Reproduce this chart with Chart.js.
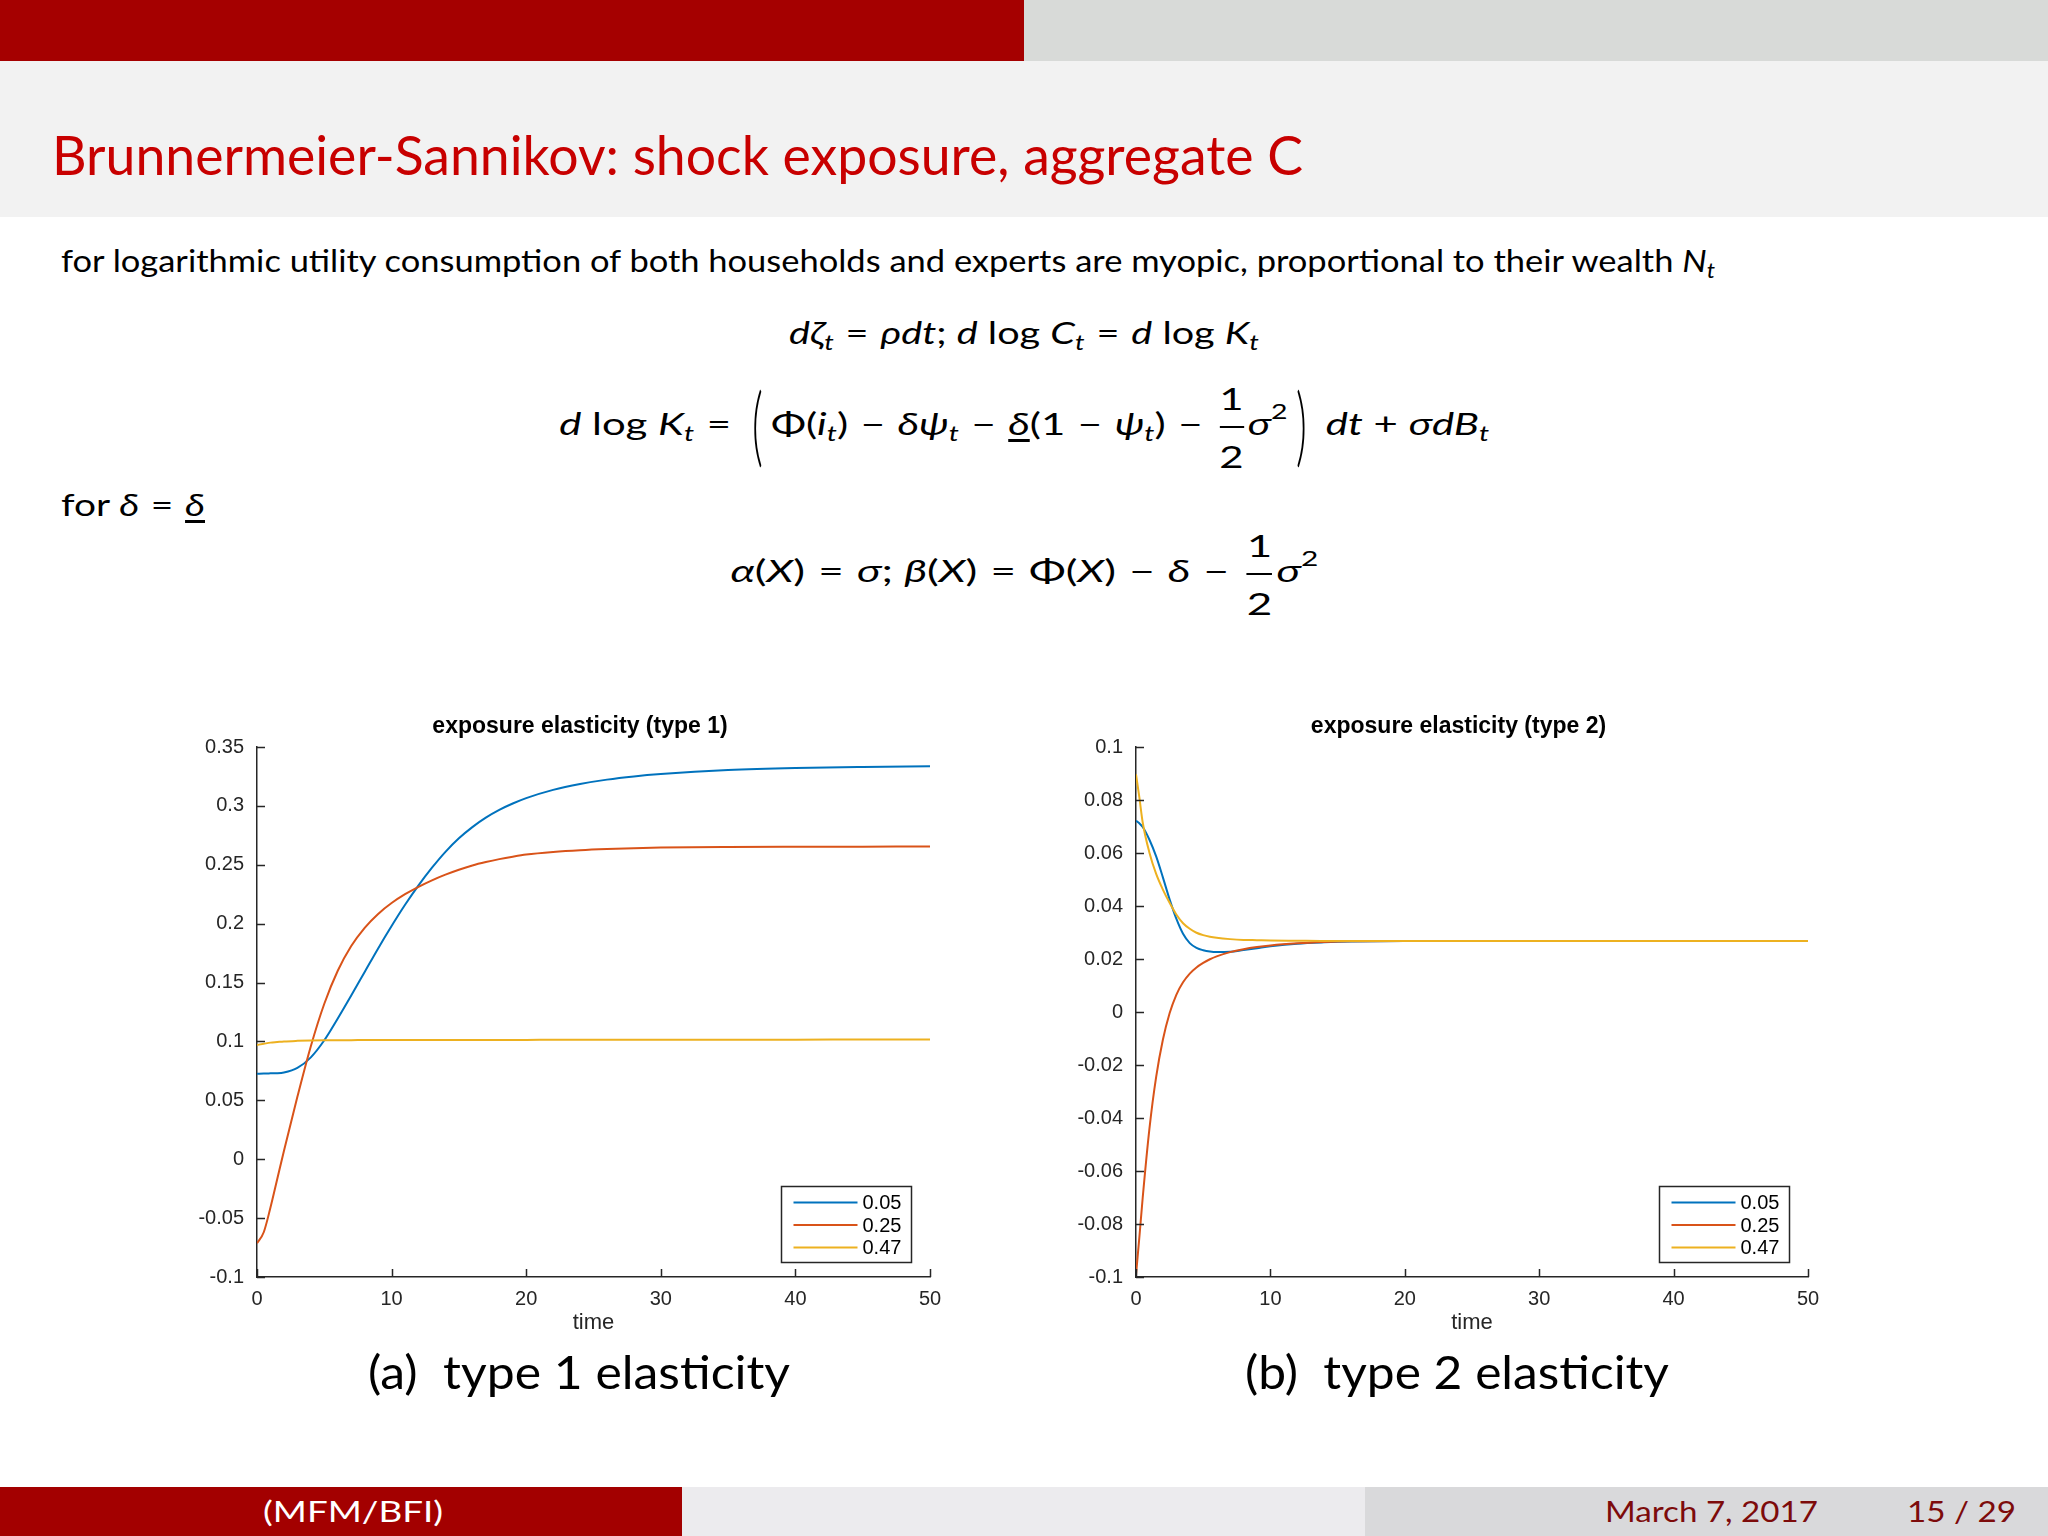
<!DOCTYPE html>
<html lang="en">
<head>
  <meta charset="UTF-8">
  <title>Brunnermeier-Sannikov: shock exposure, aggregate C</title>
  <script src="https://cdn.jsdelivr.net/npm/chart.js"></script>
  <style>
    body { margin: 0; width: 2048px; height: 1536px; position: relative; overflow: hidden; background: #fff; font-family: Lato, sans-serif; color: #000; }
    .abs { position: absolute; white-space: nowrap; line-height: 1; }
    .fit { display: inline-block; transform-origin: left center; }
    .eq { position: absolute; left: 0; width: 2048px; text-align: center; font-size: 31px; line-height: 1; white-space: nowrap; }
    .eq > span { display: inline-block; transform-origin: center center; }
    sub { font-size: 0.68em; font-style: italic; vertical-align: -0.28em; line-height: 0; }
    sup { font-size: 0.68em; vertical-align: 0.75em; line-height: 0; }
    .op { margin: 0 0.3em; }
    .frac { display: inline-flex; flex-direction: column; align-items: center; vertical-align: middle; line-height: 1.55; margin: 0 0.1em; }
    .frac .bar { width: 100%; height: 1.5px; background: #000; margin: 4px 0; }
    .big { display: inline-block; transform: scaleY(2.8); font-weight: 300; margin: 0 0.2em; }
    .ul { text-decoration: underline; text-underline-offset: 4px; }
  </style>
</head>
<body>
  <!-- header bars -->
  <div style="position:absolute; left:0; top:0; width:1024px; height:61px; background:#a50000;"></div>
  <div style="position:absolute; left:1024px; top:0; width:1024px; height:61px; background:#d8dad8;"></div>
  <div style="position:absolute; left:0; top:61px; width:2048px; height:156px; background:#f2f2f2;"></div>
  <div class="abs" style="left:52px; top:128px; font-size:54px; color:#c80000;"><span class="fit" data-w="1251">Brunnermeier-Sannikov: shock exposure, aggregate C</span></div>

  <!-- text and equations -->
  <div class="abs" style="left:61px; top:245px; font-size:31px;"><span class="fit" data-w="1654">for logarithmic utility consumption of both households and experts are myopic, proportional to their wealth <i>N</i><sub>t</sub></span></div>

  <div class="eq" style="top:317px;"><span data-w="470"><i>dζ</i><sub>t</sub><span class="op">=</span><i>ρdt</i>; <i>d</i> log <i>C</i><sub>t</sub><span class="op">=</span><i>d</i> log <i>K</i><sub>t</sub></span></div>

  <div class="eq" style="top:374px;"><span data-w="930"><i>d</i> log <i>K</i><sub>t</sub><span class="op">=</span><span class="big">(</span>Φ(<i>i</i><sub>t</sub>)<span class="op">−</span><i>δψ</i><sub>t</sub><span class="op">−</span><span class="ul"><i>δ</i></span>(1<span class="op">−</span><i>ψ</i><sub>t</sub>)<span class="op">−</span><span class="frac"><span>1</span><span class="bar"></span><span>2</span></span><i>σ</i><sup>2</sup><span class="big">)</span> <i>dt</i> + <i>σdB</i><sub>t</sub></span></div>

  <div class="abs" style="left:61px; top:489px; font-size:31px;"><span class="fit" data-w="144">for <i>δ</i><span class="op">=</span><span class="ul"><i>δ</i></span></span></div>

  <div class="eq" style="top:521px;"><span data-w="588"><i>α</i>(<i>X</i>)<span class="op">=</span><i>σ</i>; <i>β</i>(<i>X</i>)<span class="op">=</span>Φ(<i>X</i>)<span class="op">−</span><i>δ</i><span class="op">−</span><span class="frac"><span>1</span><span class="bar"></span><span>2</span></span><i>σ</i><sup>2</sup></span></div>

  <!-- charts -->
  <div style="position:absolute; left:150px; top:700px; width:860px; height:645px;"><canvas id="chart1"></canvas></div>
  <div style="position:absolute; left:1029px; top:700px; width:858px; height:645px;"><canvas id="chart2"></canvas></div>

  <div class="abs" style="left:368px; top:1349px; font-size:46px;"><span class="fit" data-w="422">(a)&nbsp; type 1 elasticity</span></div>
  <div class="abs" style="left:1245px; top:1349px; font-size:46px;"><span class="fit" data-w="424">(b)&nbsp; type 2 elasticity</span></div>

  <!-- footer -->
  <div style="position:absolute; left:0; top:1487px; width:682px; height:49px; background:#a30000;"></div>
  <div style="position:absolute; left:682px; top:1487px; width:683px; height:49px; background:#ecebee;"></div>
  <div style="position:absolute; left:1365px; top:1487px; width:683px; height:49px; background:#d9d9db;"></div>
  <div class="abs" style="left:263px; top:1496px; font-size:29px; color:#fff;"><span class="fit" data-w="180">(MFM/BFI)</span></div>
  <div class="abs" style="left:1605px; top:1496px; font-size:29px; color:#7d0b0b;"><span class="fit" data-w="213">March 7, 2017</span></div>
  <div class="abs" style="left:1907px; top:1496px; font-size:29px; color:#7d0b0b;"><span class="fit" data-w="109">15 / 29</span></div>

  <script>
    // data
    const seriesLabels = ['0.05', '0.25', '0.47'];
    const xTicks = [0, 10, 20, 30, 40, 50];
    const yTicks1 = [-0.1, -0.05, 0, 0.05, 0.1, 0.15, 0.2, 0.25, 0.3, 0.35];
    const yTicks2 = [-0.1, -0.08, -0.06, -0.04, -0.02, 0, 0.02, 0.04, 0.06, 0.08, 0.1];

    // type 1
    const time1 = [0, 0.5, 1, 1.5, 2, 3, 4, 5, 6, 7, 8, 9, 10, 11, 12, 13, 14, 15, 16, 17, 18, 19, 20, 22, 24, 26, 28, 30, 35, 40, 45, 50];
    const type1_005 = [0.0725, 0.0728, 0.0729, 0.0730, 0.0736, 0.0775, 0.0865, 0.1010, 0.1195, 0.1390, 0.1590, 0.1790, 0.1980, 0.2160, 0.2325, 0.2475, 0.2610, 0.2725, 0.2820, 0.2900, 0.2966, 0.3020, 0.3066, 0.3136, 0.3186, 0.3223, 0.3250, 0.3270, 0.3304, 0.3322, 0.3331, 0.3336];
    const type1_025 = [-0.0714, -0.0620, -0.0410, -0.0170, 0.0070, 0.0530, 0.0960, 0.1320, 0.1600, 0.1810, 0.1965, 0.2083, 0.2175, 0.2250, 0.2313, 0.2368, 0.2416, 0.2458, 0.2494, 0.2523, 0.2548, 0.2569, 0.2587, 0.2609, 0.2624, 0.2634, 0.2641, 0.2646, 0.2651, 0.2653, 0.2654, 0.2655];
    const type1_047 = [0.0970, 0.0980, 0.0990, 0.0995, 0.1000, 0.1005, 0.1008, 0.1010, 0.1011, 0.1011, 0.1012, 0.1012, 0.1012, 0.1012, 0.1012, 0.1012, 0.1013, 0.1013, 0.1013, 0.1013, 0.1013, 0.1013, 0.1013, 0.1014, 0.1014, 0.1014, 0.1014, 0.1015, 0.1015, 0.1015, 0.1016, 0.1016];

    // type 2
    const time2 = [0, 0.25, 0.5, 1, 1.5, 2, 2.5, 3, 3.5, 4, 4.5, 5, 5.5, 6, 7, 8, 9, 10, 12, 14, 16, 20, 30, 40, 50];
    const type2_005 = [0.0722, 0.0712, 0.0698, 0.0650, 0.0587, 0.0508, 0.0425, 0.0352, 0.0295, 0.0260, 0.0242, 0.0233, 0.0228, 0.0226, 0.0227, 0.0234, 0.0241, 0.0248, 0.0258, 0.0263, 0.0266, 0.0268, 0.0268, 0.0268, 0.0268];
    const type2_025 = [-0.0992, -0.0850, -0.0700, -0.0440, -0.0245, -0.0105, -0.0005, 0.0065, 0.0112, 0.0145, 0.0168, 0.0185, 0.0199, 0.0210, 0.0226, 0.0237, 0.0245, 0.0251, 0.0259, 0.0264, 0.0267, 0.0268, 0.0268, 0.0268, 0.0268];
    const type2_047 = [0.0897, 0.0810, 0.0715, 0.0601, 0.0521, 0.0462, 0.0412, 0.0368, 0.0335, 0.0314, 0.0299, 0.0290, 0.0284, 0.0280, 0.0275, 0.0272, 0.0271, 0.0270, 0.0269, 0.0268, 0.0268, 0.0268, 0.0268, 0.0268, 0.0268];

    const lineColors = ['#0072bd', '#d95319', '#edb120'];
    const axisColor = '#262626';

    // MATLAB style ticks pointing into the axes
    const inwardTicks = {
      id: 'inwardTicks',
      afterDraw(chart) {
        const { ctx, chartArea: a, scales: { x, y } } = chart;
        ctx.save();
        ctx.strokeStyle = axisColor;
        ctx.lineWidth = 1.5;
        ctx.beginPath();
        x.ticks.forEach(t => {
          const px = Math.round(x.getPixelForValue(t.value)) + 0.5;
          ctx.moveTo(px, a.bottom);
          ctx.lineTo(px, a.bottom - 8);
        });
        y.ticks.forEach(t => {
          const py = Math.round(y.getPixelForValue(t.value)) + 0.5;
          ctx.moveTo(a.left, py);
          ctx.lineTo(a.left + 8, py);
        });
        ctx.stroke();
        ctx.restore();
      }
    };

    // bold title above the axes, a little left of centre as MATLAB puts it
    const axesTitle = {
      id: 'axesTitle',
      afterDraw(chart, args, opts) {
        const { ctx, chartArea: a } = chart;
        ctx.save();
        ctx.font = 'bold 23px "Liberation Sans"';
        ctx.fillStyle = '#000';
        ctx.textAlign = 'center';
        ctx.textBaseline = 'middle';
        ctx.fillText(opts.text, (a.left + a.right) / 2 - 13.5, a.top - 20);
        ctx.restore();
      }
    };

    // boxed legend in the lower right corner of the axes
    const boxLegend = {
      id: 'boxLegend',
      afterDraw(chart) {
        const { ctx, chartArea: a } = chart;
        const w = 130, h = 76;
        const left = Math.round(a.right - 19 - w) + 0.5;
        const top = Math.round(a.bottom - 15 - h) + 0.5;
        ctx.save();
        ctx.fillStyle = '#fff';
        ctx.fillRect(left, top, w, h);
        ctx.strokeStyle = axisColor;
        ctx.lineWidth = 1.5;
        ctx.strokeRect(left, top, w, h);
        ctx.font = '20px "Liberation Sans"';
        ctx.textBaseline = 'middle';
        chart.data.datasets.forEach((ds, i) => {
          const cy = top + 16 + i * 22.5;
          ctx.strokeStyle = ds.borderColor;
          ctx.lineWidth = 2;
          ctx.beginPath();
          ctx.moveTo(left + 12, cy);
          ctx.lineTo(left + 76, cy);
          ctx.stroke();
          ctx.fillStyle = '#000';
          ctx.fillText(ds.label, left + 81, cy + 1);
        });
        ctx.restore();
      }
    };

    function makeChart(id, title, times, series, yTicks, padRight) {
      const datasets = series.map((vals, i) => ({
        label: seriesLabels[i],
        data: times.map((t, j) => ({ x: t, y: vals[j] })),
        borderColor: lineColors[i],
        borderWidth: 2,
        pointRadius: 0,
        cubicInterpolationMode: 'monotone',
        fill: false,
        order: series.length - i   // last series on top, as in MATLAB
      }));
      return new Chart(document.getElementById(id), {
        type: 'line',
        data: { datasets },
        options: {
          responsive: true,
          maintainAspectRatio: false,
          animation: false,
          layout: { padding: { left: 0, right: padRight, top: 47, bottom: 8 } },
          plugins: {
            legend: { display: false },
            tooltip: { enabled: false },
            title: { display: false },
            axesTitle: { text: title }
          },
          scales: {
            x: {
              type: 'linear',
              min: 0,
              max: 50,
              afterBuildTicks: s => { s.ticks = xTicks.map(v => ({ value: v })); },
              afterFit: s => { s.height = 60; },
              grid: { display: false, drawTicks: false },
              border: { display: true, color: axisColor, width: 1.5 },
              ticks: { color: axisColor, padding: 10, maxRotation: 0, font: { family: '"Liberation Sans"', size: 20 }, callback: v => String(v) },
              title: { display: true, text: 'time', color: axisColor, padding: { top: 0, bottom: 1 }, font: { family: '"Liberation Sans"', size: 22 } }
            },
            y: {
              type: 'linear',
              min: yTicks[0],
              max: yTicks[yTicks.length - 1],
              afterBuildTicks: s => { s.ticks = yTicks.map(v => ({ value: v })); },
              afterFit: s => { s.width = 107; },
              grid: { display: false, drawTicks: false },
              border: { display: true, color: axisColor, width: 1.5 },
              ticks: { color: axisColor, padding: 13, font: { family: '"Liberation Sans"', size: 20 }, callback: v => String(v) }
            }
          }
        },
        plugins: [inwardTicks, axesTitle, boxLegend]
      });
    }

    makeChart('chart1', 'exposure elasticity (type 1)', time1, [type1_005, type1_025, type1_047], yTicks1, 80);
    makeChart('chart2', 'exposure elasticity (type 2)', time2, [type2_005, type2_025, type2_047], yTicks2, 79);

    // stretch text runs to the widths measured on the slide
    document.fonts.ready.then(() => {
      document.querySelectorAll('[data-w]').forEach(el => {
        const w = el.getBoundingClientRect().width;
        if (w > 0) el.style.transform = 'scaleX(' + (el.dataset.w / w) + ')';
      });
    });
  </script>
</body>
</html>
